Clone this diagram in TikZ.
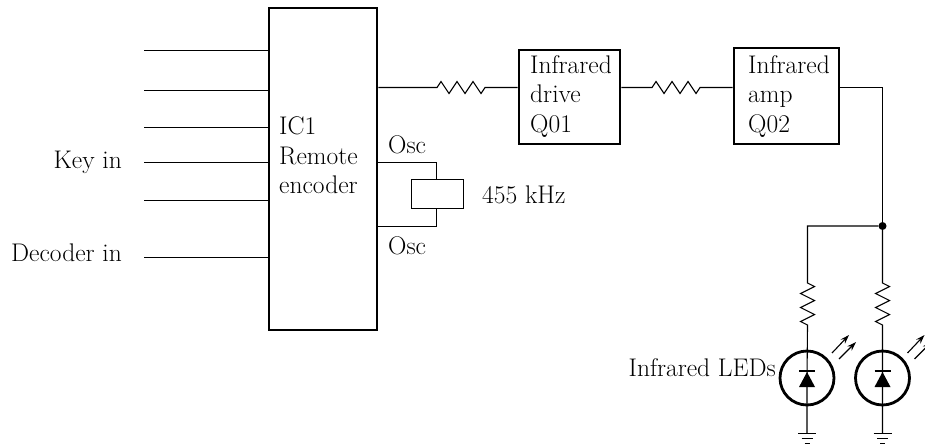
\documentclass[tikz,border=0pt]{standalone}
\usetikzlibrary{arrows.meta,calc}
\begin{document}
\begin{tikzpicture}[x=1pt,y=-1pt,line join=miter,
  thin wire/.style={line width=1.1pt},
  box/.style={draw,line width=2.8pt,minimum width=#1,inner sep=0pt},
  lbl/.style={inner sep=0pt,font=\fontsize{25.5}{29.4}\selectfont,text=black},
  ledring/.style={circle,draw,line width=2.8pt,minimum size=54pt,inner sep=0pt},
  dot/.style={circle,fill,minimum size=8pt,inner sep=0pt}]
\useasboundingbox (0,0) rectangle (925,445);
\clip (0,0) rectangle (925,445);
% boxes
\node[box=108pt,minimum height=322pt] (ic) at (323,169) {};
\node[box=101pt,minimum height=94pt] (q1) at (569.5,97) {};
\node[box=105pt,minimum height=96pt] (q2) at (786.5,96) {};
\node[draw,line width=1.1pt,minimum width=52pt,minimum height=29pt,inner sep=0pt] (xtal) at (437.5,194) {};
% box labels
\node[lbl,anchor=base west,align=left] at (279,193.5) {IC1\\Remote\\encoder};
\node[lbl,anchor=base west,align=left] at (530,132) {Infrared\\drive\\Q01};
\node[lbl,anchor=base west,align=left] at (748,132) {Infrared\\amp\\Q02};
\node[lbl,anchor=base west] at (388,153) {Osc};
\node[lbl,anchor=base west] at (388,254) {Osc};
\node[lbl,anchor=base west] at (482,203) {455 kHz};
\node[lbl,anchor=base east] at (122,168) {Key in};
\node[lbl,anchor=base east] at (122,261) {Decoder in};
\node[lbl,anchor=base east] at (776,376) {Infrared LEDs};
% input lines
\foreach \yy/\nm in {50/a,90/b,127/c,162/d,200/e,257/f}{
  \coordinate (in\nm) at (144,\yy+.5);
  \draw[thin wire] (in\nm) -- (ic.west |- in\nm);
}
% resistors horizontal
\coordinate (r1a) at (437,87.5);
\coordinate (r1b) at (485,87.5);
\coordinate (r2a) at (652,87.5);
\coordinate (r2b) at (700,87.5);
\draw[thin wire] (ic.east |- r1a) -- (r1a) -- ++(4,-6) -- ++(8,12) -- ++(8,-12) -- ++(8,12) -- ++(8,-12) -- ++(8,12) -- (r1b) -- (q1.west |- r1b);
\draw[thin wire] (q1.east |- r2a) -- (r2a) -- ++(4,-6) -- ++(8,12) -- ++(8,-12) -- ++(8,12) -- ++(8,-12) -- ++(8,12) -- (r2b) -- (q2.west |- r2b);
% crystal
\coordinate (oa) at (ic.east |- 0,162.5);
\coordinate (ob) at (ic.east |- 0,226.5);
\coordinate (xa) at ($(xtal.north)+(-1,0)$);
\coordinate (xb) at ($(xtal.south)+(-1,0)$);
\draw[thin wire] (oa) -| (xa);
\draw[thin wire] (ob) -| (xb);
% output
\node[dot] (j) at (882.5,226) {};
\node[ledring] (l1) at (807,378) {};
\node[ledring] (l2) at (882.5,378) {};
\coordinate (g1) at (807,433);
\coordinate (g2) at (882.5,433);
\draw[thin wire] (q2.east |- 0,87.5) -| (j);
\draw[thin wire] (j) -- (807.5,226) -- (807.5,283) -- ++(7,3.5) -- ++(-14,7) -- ++(14,7) -- ++(-14,7) -- ++(14,7) -- ++(-14,7) -- ++(7,3.5) -- (l1.center) -- (g1);
\draw[thin wire] (j) -- (882.5,283) -- ++(7,3.5) -- ++(-14,7) -- ++(14,7) -- ++(-14,7) -- ++(14,7) -- ++(-14,7) -- ++(7,3.5) -- (l2.center) -- (g2);
\foreach \n/\xx in {1/807,2/882.5}{
  \fill (\xx,372) -- (\xx+8,387) -- (\xx-8,387) -- cycle;
  \draw[thin wire] (\xx-8,371) -- (\xx+8,371);
  \draw[line width=1.6pt] (\xx-9,433.5) -- (\xx+9,433.5);
  \draw[line width=1.4pt] (\xx-5.5,438.5) -- (\xx+5.5,438.5);
  \draw[line width=1.2pt] (\xx-2.5,443.5) -- (\xx+2.5,443.5);
  \draw[thin wire,-{Stealth[length=9pt,width=6pt]}] (\xx+25,353) -- ++(17,-18);
  \draw[thin wire,-{Stealth[length=9pt,width=6pt]}] (\xx+32,359) -- ++(17,-17);
}
\end{tikzpicture}
\end{document}
